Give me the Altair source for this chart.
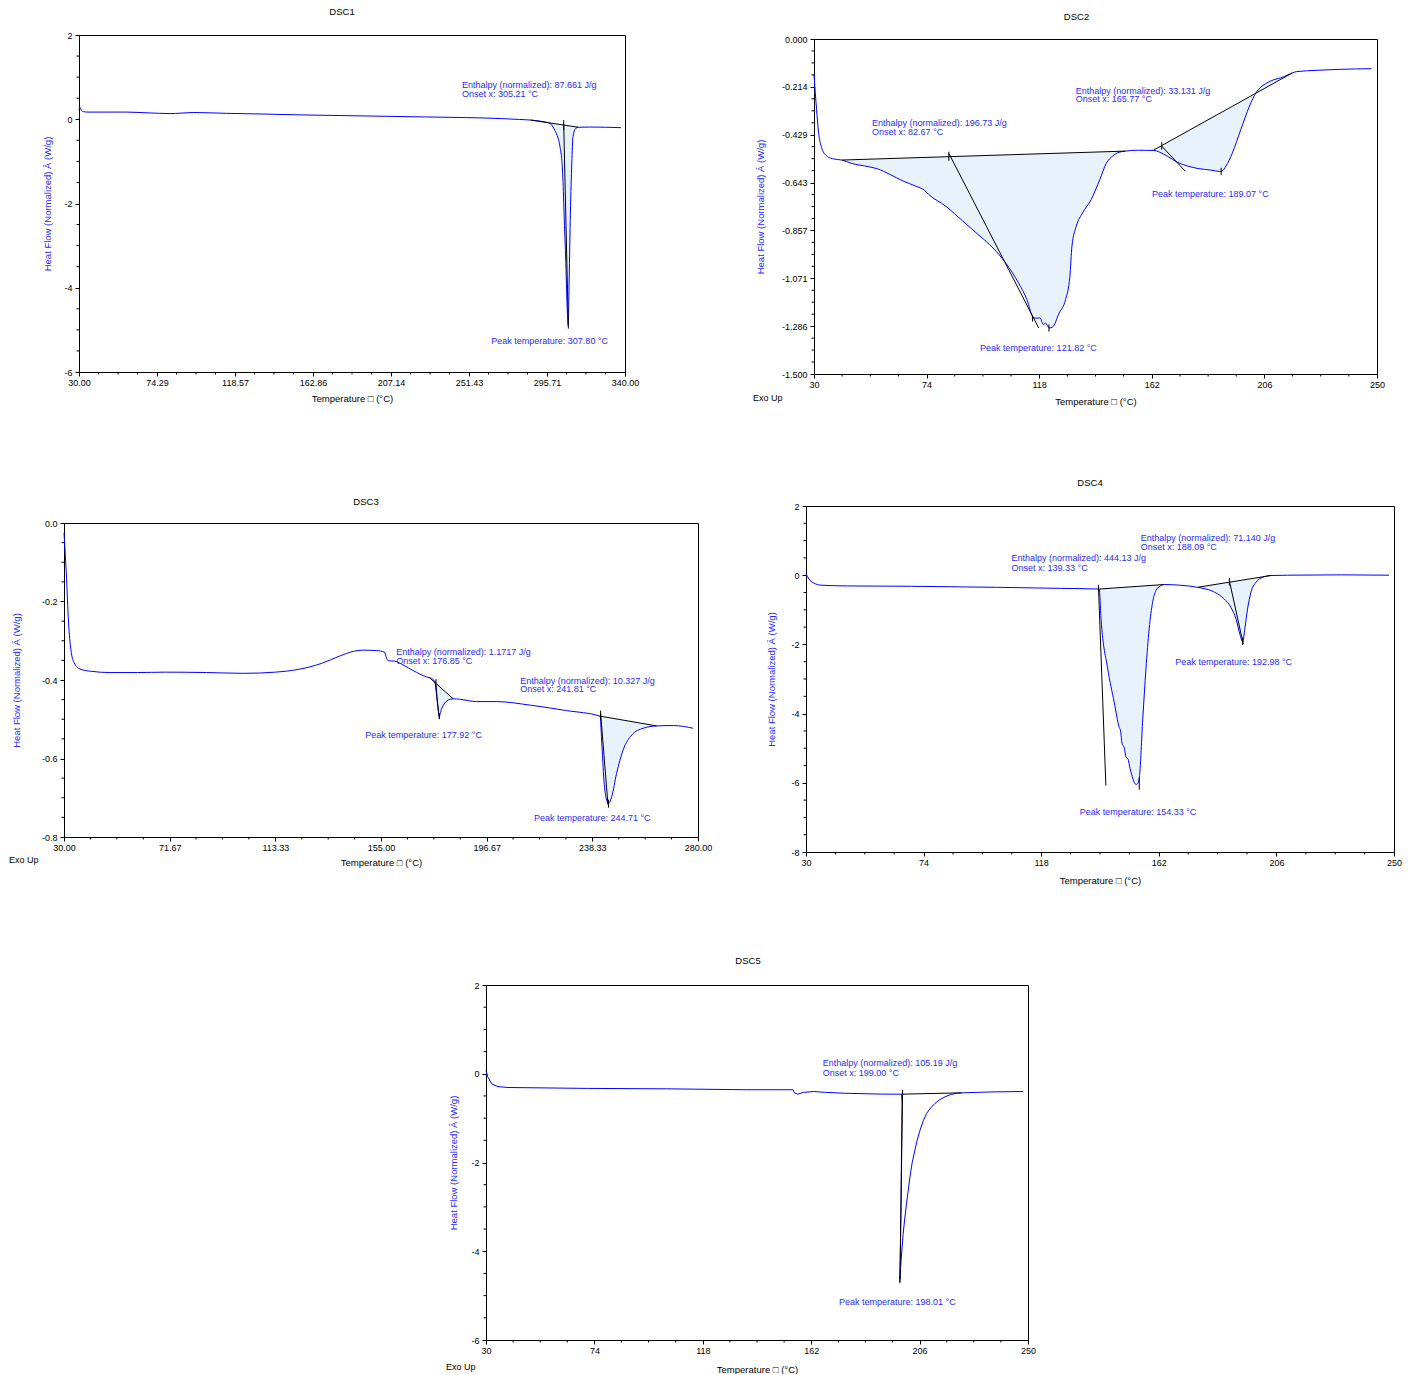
import altair as alt
import pandas as pd

FONT = "Liberation Sans"
LINE_BLUE = "#0000ff"
TEXT_BLUE = "#2a2aff"
FILL = "#e8f2fc"

# ---------------- data ----------------
DSC1_T = [30.0, 30.5, 31.2, 32.5, 35, 57, 70, 81.7, 88, 94.9, 113.8, 132.8, 160, 190, 226, 250, 270, 280,
          286.5, 294, 297.4, 300.1, 302, 303.1, 304.6, 305.4, 306.4, 307.3, 307.75, 308.3, 309.0, 309.8,
          310.5, 312.0, 313.5, 320, 337.7]
DSC1_HF = [0.22, 0.28, 0.22, 0.18, 0.17, 0.17, 0.15, 0.135, 0.145, 0.16, 0.14, 0.125, 0.10, 0.08, 0.055, 0.04,
           0.015, -0.005, -0.02, -0.06, -0.10, -0.26, -0.45, -0.65, -1.28, -2.23, -3.42, -4.61, -4.9, -3.82,
           -2.23, -1.04, -0.41, -0.22, -0.19, -0.185, -0.2]
DSC1_FILLS = [(286.5, -0.02, 313.5, -0.19)]
DSC1_LINES = [(286.5, -0.02, 313.5, -0.19), (305.21, -0.12, 307.85, -4.97), (305.21, -0.02, 305.21, -0.26)]
DSC1_NOTE_X = [247.4, 247.4, 264.1]
DSC1_NOTE_Y = [0.806, 0.593, -5.26]
DSC1_NOTE_TEXT = ["Enthalpy (normalized): 87.661 J/g", "Onset x: 305.21 °C", "Peak temperature: 307.80 °C"]
DSC1_XTICKS = [30, 74.2857, 118.5714, 162.8571, 207.1429, 251.4286, 295.7143, 340]
DSC1_YTICKS = [2, 0, -2, -4, -6]

DSC2_T = [30.0, 31.0, 31.8, 33.0, 34.7, 37.2, 40.9, 44.7, 51.4, 54.7, 59.8, 64.8, 69.8, 73.1, 74.8, 81.5, 88.2,
          94.9, 99.9, 104.9, 109.9, 113.2, 115.8, 116.6, 118.3, 119.6, 120.5, 121.9, 123.3, 125.8, 128.3, 130.0,
          130.8, 132.5, 135.0, 138.3, 141.7, 144.2, 146.7, 149.2, 151.7, 156.7, 162.6, 165.1, 168.4, 171.8, 176.0,
          180.1, 185.1, 188.5, 189.3, 191.0, 193.5, 196.8, 200.2, 202.7, 204.4, 208.5, 213.5, 216.9, 218.6, 226.9,
          235.3, 247.8]
DSC2_HF = [-0.158, -0.315, -0.42, -0.487, -0.521, -0.536, -0.542, -0.557, -0.572, -0.581, -0.607, -0.636, -0.659,
           -0.677, -0.696, -0.749, -0.816, -0.883, -0.935, -1.003, -1.092, -1.167, -1.249, -1.25, -1.249, -1.279,
           -1.272, -1.294, -1.289, -1.227, -1.167, -1.062, -0.928, -0.838, -0.778, -0.719, -0.629, -0.557, -0.524,
           -0.507, -0.502, -0.498, -0.499, -0.507, -0.527, -0.551, -0.569, -0.58, -0.587, -0.593, -0.592, -0.569,
           -0.51, -0.405, -0.3, -0.241, -0.218, -0.188, -0.169, -0.152, -0.146, -0.14, -0.136, -0.133]
DSC2_FILLS = [(40.9, -0.542, 151.7, -0.502), (162.6, -0.498, 216.9, -0.152)]
DSC2_LINES = [(40.9, -0.542, 151.7, -0.502), (82.7, -0.512, 117.8, -1.294), (82.7, -0.505, 82.7, -0.545),
              (115.4, -1.24, 115.4, -1.265), (121.8, -1.278, 121.8, -1.31), (162.6, -0.498, 216.9, -0.152),
              (165.9, -0.48, 175.1, -0.592), (165.9, -0.462, 165.9, -0.495), (189.1, -0.577, 189.1, -0.61)]
DSC2_NOTE_X = [52.7, 52.7, 132.3, 132.3, 162.1, 94.9]
DSC2_NOTE_Y = [-0.375, -0.415, -0.232, -0.270, -0.693, -1.384]
DSC2_NOTE_TEXT = ["Enthalpy (normalized): 196.73 J/g", "Onset x: 82.67 °C", "Enthalpy (normalized): 33.131 J/g",
                  "Onset x: 165.77 °C", "Peak temperature: 189.07 °C", "Peak temperature: 121.82 °C"]
DSC2_XTICKS = [30, 74, 118, 162, 206, 250]
DSC2_YTICKS = [0.0, -0.2143, -0.4286, -0.6429, -0.8571, -1.0714, -1.2857, -1.5]

DSC3_T = [30.0, 30.9, 31.8, 32.7, 34.0, 36.3, 40.9, 48.1, 59.0, 69.9, 86.2, 100.7, 113.3, 122.4, 131.4, 138.7,
          144.1, 147.8, 153.2, 156.4, 157.2, 157.9, 160.4, 164.1, 167.7, 173.0, 174.1, 175.8, 176.7, 177.3, 178.0,
          178.8, 179.6, 181.5, 183.5, 186.0, 192.7, 200.6, 213.8, 228.2, 241.4, 242.0, 242.9, 244.0, 244.8, 246.0,
          247.9, 250.5, 253.9, 258.4, 263.7, 270.3, 278.1]
DSC3_HF = [-0.025, -0.127, -0.255, -0.322, -0.356, -0.372, -0.378, -0.381, -0.381, -0.380, -0.381, -0.383, -0.380,
           -0.373, -0.358, -0.339, -0.327, -0.324, -0.325, -0.329, -0.345, -0.351, -0.352, -0.363, -0.376, -0.392,
           -0.394, -0.400, -0.415, -0.460, -0.492, -0.475, -0.464, -0.451, -0.448, -0.449, -0.455, -0.455, -0.464,
           -0.478, -0.492, -0.553, -0.655, -0.706, -0.714, -0.697, -0.638, -0.578, -0.540, -0.523, -0.517, -0.516,
           -0.523]
DSC3_FILLS = [(174.1, -0.394, 183.5, -0.448), (241.4, -0.492, 263.7, -0.517)]
DSC3_LINES = [(174.1, -0.394, 183.5, -0.448), (176.3, -0.404, 178.0, -0.498), (176.7, -0.398, 176.7, -0.418),
              (178.0, -0.485, 178.0, -0.50), (241.4, -0.492, 263.7, -0.517), (241.6, -0.485, 244.5, -0.718),
              (241.6, -0.478, 241.6, -0.50), (244.7, -0.705, 244.7, -0.725)]
DSC3_NOTE_X = [161.0, 161.0, 209.9, 209.9, 148.8, 215.3]
DSC3_NOTE_Y = [-0.329, -0.351, -0.403, -0.423, -0.540, -0.751]
DSC3_NOTE_TEXT = ["Enthalpy (normalized): 1.1717 J/g", "Onset x: 176.85 °C", "Enthalpy (normalized): 10.327 J/g",
                  "Onset x: 241.81 °C", "Peak temperature: 177.92 °C", "Peak temperature: 244.71 °C"]
DSC3_XTICKS = [30, 71.6667, 113.3333, 155, 196.6667, 238.3333, 280]
DSC3_YTICKS = [0.0, -0.2, -0.4, -0.6, -0.8]

DSC4_T = [30.0, 31.1, 32.7, 35.9, 45.5, 69.4, 101.3, 125.2, 139.7, 140.4, 142.9, 145.3, 147.2, 147.7, 148.2,
          149.1, 149.7, 150.5, 151.2, 151.8, 152.8, 153.6, 154.3, 154.8, 156.0, 157.2, 158.4, 159.7, 160.9, 162.8,
          164.0, 170.0, 176.5, 182.8, 186.5, 189.0, 190.9, 192.5, 193.4, 194.2, 195.2, 196.5, 198.3, 200.9, 203.9,
          210.2, 230.0, 248.1]
DSC4_HF = [0.04, -0.11, -0.22, -0.29, -0.31, -0.32, -0.35, -0.38, -0.40, -1.27, -2.71, -3.67, -4.40, -4.50, -4.85,
           -5.00, -5.25, -5.32, -5.58, -5.75, -5.99, -6.05, -5.99, -5.79, -4.16, -2.71, -1.55, -0.78, -0.45, -0.30,
           -0.27, -0.29, -0.35, -0.49, -0.69, -0.93, -1.27, -1.75, -1.93, -1.55, -0.98, -0.49, -0.21, -0.06, -0.01,
           0.0, 0.01, 0.0]
DSC4_FILLS = [(139.7, -0.40, 164.0, -0.27), (176.5, -0.35, 203.9, -0.01)]
DSC4_LINES = [(139.7, -0.40, 164.0, -0.27), (139.4, -0.28, 142.2, -6.08), (154.7, -5.85, 154.7, -6.2),
              (176.5, -0.35, 203.9, -0.01), (188.4, -0.16, 193.6, -1.99), (188.4, -0.08, 188.4, -0.30),
              (193.4, -1.80, 193.4, -2.02)]
DSC4_NOTE_X = [155.2, 155.2, 106.9, 106.9, 168.2, 132.4]
DSC4_NOTE_Y = [1.066, 0.807, 0.489, 0.21, -2.505, -6.835]
DSC4_NOTE_TEXT = ["Enthalpy (normalized): 71.140 J/g", "Onset x: 188.09 °C", "Enthalpy (normalized): 444.13 J/g",
                  "Onset x: 139.33 °C", "Peak temperature: 192.98 °C", "Peak temperature: 154.33 °C"]
DSC4_XTICKS = [30, 74, 118, 162, 206, 250]
DSC4_YTICKS = [2, 0, -2, -4, -6, -8]

DSC5_T = [30.0, 30.8, 32.4, 34.8, 38.9, 71.1, 103.3, 135.6, 154.6, 155.2, 156.5, 158.9, 163.0, 167.8, 175.9, 183.9,
          192.0, 198.7, 198.9, 198.7, 198.45, 198.15, 198.0, 198.5, 199.3, 200.0, 200.7, 202.1, 203.0, 204.1,
          205.0, 206.2, 207.5, 208.9, 210.5, 212.2, 214.0, 216.3, 218.5, 221.0, 223.1, 235.0, 248.1]
DSC5_HF = [0.07, -0.08, -0.23, -0.29, -0.31, -0.33, -0.34, -0.36, -0.36, -0.43, -0.46, -0.42, -0.40, -0.42, -0.44,
           -0.45, -0.46, -0.46, -0.70, -1.50, -3.00, -4.20, -4.62, -4.20, -3.62, -3.25, -2.92, -2.32, -2.00, -1.72,
           -1.50, -1.27, -1.06, -0.89, -0.77, -0.67, -0.59, -0.52, -0.47, -0.44, -0.43, -0.41, -0.40]
DSC5_FILLS = []
DSC5_LINES = [(198.7, -0.46, 223.1, -0.43), (199.1, -0.36, 198.0, -4.69), (198.0, -4.55, 198.0, -4.72)]
DSC5_NOTE_X = [166.7, 166.7, 173.3]
DSC5_NOTE_Y = [0.232, 0.007, -5.15]
DSC5_NOTE_TEXT = ["Enthalpy (normalized): 105.19 J/g", "Onset x: 199.00 °C", "Peak temperature: 198.01 °C"]
DSC5_XTICKS = [30, 74, 118, 162, 206, 250]
DSC5_YTICKS = [2, 0, -2, -4, -6]

X_TITLE = "Temperature \u25a1 (°C)"
Y_TITLE = "Heat Flow (Normalized) Â  (W/g)"

ONE = pd.DataFrame({"k": [0]})


def minor(start, step, n):
    return [round(start + step / 4.0 * j, 5) for j in range(1, 4 * n) if j % 4]


def spacer(w, h):
    # invisible element used only to reserve room in the layout
    return (alt.Chart(ONE).mark_rule(opacity=0)
            .encode(x=alt.value(0), x2=alt.value(w), y=alt.value(0), y2=alt.value(h))
            .properties(width=w, height=h))


def panel(name, T, HF, fills, lines, nx, ny, ntext, xticks, yticks, xdom, ydom, xfmt, yfmt,
          xminor, yminor, W, H, box, title_dx, title_up, ytoff, xtoff, exo=None, interp="monotone"):
    curve = pd.DataFrame({"T": T, "v": HF, "i": list(range(len(T)))})
    xs = alt.Scale(domain=xdom, nice=False, zero=False)
    ys = alt.Scale(domain=ydom, nice=False, zero=False)
    common = dict(grid=False, domainColor="black", tickColor="black", labelColor="black", labelFont=FONT,
                  labelFontSize=9, titleFont=FONT, titleFontSize=9.5, titleFontWeight="normal",
                  labelFlush=False, labelOverlap=False, tickSize=4, titlePadding=0)
    xax = alt.Axis(values=xticks, title=X_TITLE, titleColor="black", labelPadding=2,
                   labelExpr=f"replace(format(datum.value, '{xfmt}'), '\u2212', '-')",
                   minExtent=xtoff, maxExtent=xtoff, **common)
    yax = alt.Axis(values=yticks, title=Y_TITLE, titleColor="#2a2aff", labelPadding=3,
                   labelExpr=f"replace(format(datum.value, '{yfmt}'), '\u2212', '-')",
                   minExtent=ytoff, maxExtent=ytoff, **common)
    X = lambda f: alt.X(f"{f}:Q", scale=xs, axis=xax)
    Y = lambda f: alt.Y(f"{f}:Q", scale=ys, axis=yax)

    layers = []
    for (t0, y0, t1, y1) in fills:
        layers.append(
            alt.Chart(curve)
            .transform_filter(alt.FieldRangePredicate(field="T", range=[t0, t1]))
            .transform_calculate(base=f"{y0} + (datum.T - {t0}) * ({y1 - y0}) / ({t1 - t0})")
            .mark_area(color=FILL, opacity=1, interpolate=interp)
            .encode(x=X("T"), y=Y("v"), y2="base:Q")
        )
    layers.append(
        alt.Chart(curve).mark_line(color=LINE_BLUE, strokeWidth=1, interpolate=interp)
        .encode(x=X("T"), y=Y("v"), order="i:Q")
    )
    seg = pd.DataFrame(lines, columns=["x1", "y1", "x2", "y2"])
    layers.append(
        alt.Chart(seg).mark_rule(color="black", strokeWidth=1)
        .encode(x=X("x1"), y=Y("y1"), x2="x2:Q", y2="y2:Q")
    )
    notes = pd.DataFrame({"tx": nx, "ty": ny, "label": ntext})
    layers.append(
        alt.Chart(notes).mark_text(align="left", baseline="middle", font=FONT, fontSize=9, color=TEXT_BLUE)
        .encode(x=X("tx"), y=Y("ty"), text="label:N")
    )
    layers.append(
        alt.Chart(pd.DataFrame({"T": xminor})).mark_rule(color="black", strokeWidth=1)
        .encode(x=X("T"), y=alt.value(H), y2=alt.value(H + 2.5))
    )
    layers.append(
        alt.Chart(pd.DataFrame({"v": yminor})).mark_rule(color="black", strokeWidth=1)
        .encode(y=Y("v"), x=alt.value(0), x2=alt.value(-2.5))
    )
    # panel title
    layers.append(
        alt.Chart(pd.DataFrame({"label": [name]}))
        .mark_text(align="center", baseline="middle", font=FONT, fontSize=9.5, color="black")
        .encode(x=alt.value(W / 2 + title_dx), y=alt.value(-title_up), text="label:N")
    )
    if exo is not None:
        layers.append(
            alt.Chart(pd.DataFrame({"label": ["Exo Up"]}))
            .mark_text(align="left", baseline="middle", font=FONT, fontSize=9, color="black")
            .encode(x=alt.value(exo[0]), y=alt.value(H + exo[1]), text="label:N")
        )
    E, Tp, R, B = box
    layers.append(
        alt.Chart(ONE).mark_rule(opacity=0)
        .encode(x=alt.value(-E), x2=alt.value(W + R), y=alt.value(-Tp), y2=alt.value(H + B))
    )
    return alt.layer(*layers).properties(
        width=W, height=H,
        view=alt.ViewBackground(stroke="black", strokeWidth=1, strokeOpacity=1),
    )


p1 = panel("DSC1", DSC1_T, DSC1_HF, DSC1_FILLS, DSC1_LINES, DSC1_NOTE_X, DSC1_NOTE_Y, DSC1_NOTE_TEXT,
           DSC1_XTICKS, DSC1_YTICKS, [30, 340], [-6, 2], ".2f", "d",
           minor(30, 310 / 7, 7), minor(-6, 2, 4), 546, 337, (40, 30, 118, 38), -10, 23, 27, 21)
p2 = panel("DSC2", DSC2_T, DSC2_HF, DSC2_FILLS, DSC2_LINES, DSC2_NOTE_X, DSC2_NOTE_Y, DSC2_NOTE_TEXT,
           DSC2_XTICKS, DSC2_YTICKS, [30, 250], [-1.5, 0], "d", ".3f",
           minor(30, 44, 5), minor(-1.5, 1.5 / 7, 7), 563, 335, (69, 30, 15, 35), -19, 22, 49, 22,
           exo=(-61, 24))
p3 = panel("DSC3", DSC3_T, DSC3_HF, DSC3_FILLS, DSC3_LINES, DSC3_NOTE_X, DSC3_NOTE_Y, DSC3_NOTE_TEXT,
           DSC3_XTICKS, DSC3_YTICKS, [30, 280], [-0.8, 0], ".2f", ".1f",
           minor(30, 250 / 6, 6), minor(-0.8, 0.2, 4), 634, 314, (57, 30, 61, 53), -15, 21, 43, 20,
           exo=(-55, 23))
p4 = panel("DSC4", DSC4_T, DSC4_HF, DSC4_FILLS, DSC4_LINES, DSC4_NOTE_X, DSC4_NOTE_Y, DSC4_NOTE_TEXT,
           DSC4_XTICKS, DSC4_YTICKS, [30, 250], [-8, 2], "d", "d",
           minor(30, 44, 5), minor(-8, 2, 5), 588, 346, (45, 30, 12, 37), -10, 23, 30, 23)
p5 = panel("DSC5", DSC5_T, DSC5_HF, DSC5_FILLS, DSC5_LINES, DSC5_NOTE_X, DSC5_NOTE_Y, DSC5_NOTE_TEXT,
           DSC5_XTICKS, DSC5_YTICKS, [30, 250], [-6, 2], "d", "d",
           minor(30, 44, 5), minor(-6, 2, 4), 542, 355, (45, 30, 15, 33), -9, 24, 28, 24,
           exo=(-40, 27), interp="linear")


def cell(top_gap, p):
    return alt.vconcat(spacer(1, top_gap), p, spacing=0)


row1 = alt.hconcat(spacer(34, 1), cell(3, p1), cell(7, p2), spacing=0)
row2 = alt.hconcat(spacer(2, 1), cell(71, p3), cell(54, p4), spacing=0)
row3 = alt.hconcat(spacer(436, 1), cell(53, p5), spacing=0)

chart = (
    alt.vconcat(row1, row2, row3, spacing=10)
    .properties(padding={"left": 4, "top": 1, "right": 5, "bottom": 0}, background="white")
    .configure_view(strokeOpacity=0)
)

chart.save("out.html", embed_options={"renderer": "svg", "actions": False})
